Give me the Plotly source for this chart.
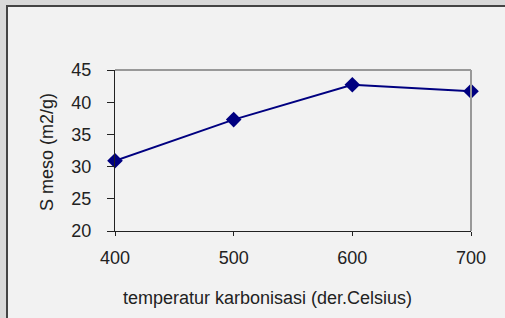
import plotly.graph_objects as go

temperatures = [400, 500, 600, 700]
s_meso = [30.9, 37.3, 42.7, 41.7]
x_ticks = [400, 500, 600, 700]
y_ticks = [20, 25, 30, 35, 40, 45]
x_title = "temperatur karbonisasi (der.Celsius)"
y_title = "S meso (m2/g)"

W, H = 505, 318
L, R, T, B = 115, 34, 70, 87
pw, ph = W - L - R, H - T - B

def px(x):
    return (x - L) / pw

def py(y):
    return (H - B - y) / ph

fig = go.Figure()
fig.add_trace(go.Scatter(
    x=temperatures, y=s_meso, mode="lines+markers",
    line=dict(color="#000080", width=2),
    marker=dict(symbol="diamond", size=12, color="#000080"),
    showlegend=False, cliponaxis=False,
))

font = dict(family="Liberation Sans, Arial, sans-serif", size=18, color="#222222")

fig.update_layout(
    width=W, height=H,
    margin=dict(l=L, r=R, t=T, b=B),
    paper_bgcolor="#d9d9d9",
    plot_bgcolor="white",
    font=font,
    xaxis=dict(
        range=[400, 700], tickvals=x_ticks, showgrid=False, zeroline=False,
        showline=True, linecolor="#222222", linewidth=1,
        ticks="outside", ticklen=4, tickcolor="#222222",
        ticklabelstandoff=6,
    ),
    yaxis=dict(
        range=[20, 45], tickvals=y_ticks, showgrid=False, zeroline=False,
        showline=True, linecolor="#222222", linewidth=1,
        ticks="outside", ticklen=7, tickcolor="#222222",
        ticklabelstandoff=12,
    ),
    annotations=[
        dict(text=x_title, xref="paper", yref="paper", x=px(267), y=py(298),
             xanchor="center", yanchor="middle", showarrow=False, font=font),
        dict(text=y_title, xref="paper", yref="paper", x=px(47), y=py(152),
             xanchor="center", yanchor="middle", showarrow=False, textangle=-90, font=font),
    ],
    shapes=[
        dict(type="rect", xref="paper", yref="paper", layer="below",
             x0=px(7), x1=px(W + 10), y0=py(6), y1=py(H + 10),
             fillcolor="#f2f2f2", line=dict(color="#444444", width=2)),
        dict(type="line", xref="paper", yref="paper", layer="above",
             x0=0, x1=1, y0=1, y1=1, line=dict(color="#999999", width=2)),
        dict(type="line", xref="paper", yref="paper", layer="above",
             x0=1, x1=1, y0=0, y1=1, line=dict(color="#999999", width=2)),
    ],
)

fig.write_html("out.html", config={"displayModeBar": False},
               post_script="document.body.style.margin='0';")
